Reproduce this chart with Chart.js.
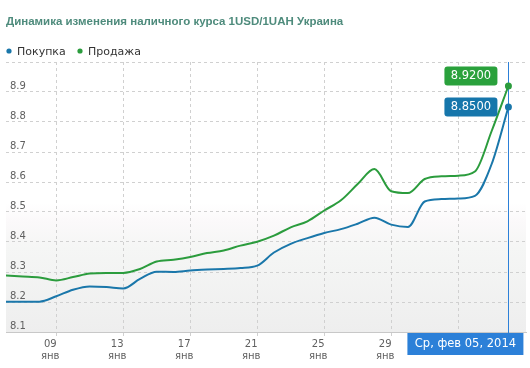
<!DOCTYPE html>
<html>
<head>
<meta charset="utf-8">
<script src="https://cdn.jsdelivr.net/npm/chart.js@4"></script>
<style>
  html, body { margin: 0; padding: 0; background: #ffffff; }
  #wrap { position: relative; width: 530px; height: 368px; }
</style>
</head>
<body>
<div id="wrap"><canvas id="c" width="530" height="368"></canvas></div>
<script>
// ---- data ----
const titleText = 'Динамика изменения наличного курса 1USD/1UAH Украина';
const seriesNames = ['Покупка', 'Продажа'];
const dates = [
  '2014-01-06','2014-01-07','2014-01-08','2014-01-09','2014-01-10','2014-01-11','2014-01-12',
  '2014-01-13','2014-01-14','2014-01-15','2014-01-16','2014-01-17','2014-01-18','2014-01-19',
  '2014-01-20','2014-01-21','2014-01-22','2014-01-23','2014-01-24','2014-01-25','2014-01-26',
  '2014-01-27','2014-01-28','2014-01-29','2014-01-30','2014-01-31','2014-02-01','2014-02-02',
  '2014-02-03','2014-02-04','2014-02-05'
];
const buy = [
  8.201, 8.201, 8.201, 8.219, 8.241, 8.252, 8.250,
  8.245, 8.277, 8.301, 8.300, 8.305, 8.308, 8.310,
  8.313, 8.321, 8.365, 8.394, 8.413, 8.430, 8.443,
  8.461, 8.481, 8.458, 8.450, 8.535, 8.543, 8.545,
  8.554, 8.660, 8.850
];
const sell = [
  8.288, 8.285, 8.282, 8.272, 8.283, 8.295, 8.297,
  8.297, 8.310, 8.335, 8.341, 8.350, 8.363, 8.372,
  8.388, 8.401, 8.421, 8.449, 8.469, 8.505, 8.539,
  8.593, 8.643, 8.569, 8.563, 8.610, 8.619, 8.621,
  8.635, 8.770, 8.920
];
const tickDates = ['2014-01-09','2014-01-13','2014-01-17','2014-01-21','2014-01-25','2014-01-29','2014-02-02'];
const tickDays = ['09','13','17','21','25','29',''];      // last label is covered by the date tooltip
const tickMonths = ['янв','янв','янв','янв','янв','янв',''];
const tooltipText = 'Ср, фев 05, 2014';
const yMin = 8.1, yMax = 9.0, yStep = 0.1;

// ---- styles ----
const BLUE = '#1a77aa';
const GREEN = '#2b9c3d';
const BLUE_BOX = '#1676ab';
const GREEN_BOX = '#2aa13c';
const TIP = '#2c80d8';
const GRID = '#d0d0d0';
const LABEL = '#606060';

const tickPositions = tickDates.map(d => dates.indexOf(d));
const lastIdx = dates.length - 1;
const toPts = arr => arr.map((v, i) => ({ x: i, y: v }));

const decor = {
  id: 'decor',
  beforeDraw(chart) {
    const { ctx, chartArea: a } = chart;
    const y = chart.scales.y;
    const g = ctx.createLinearGradient(0, a.top, 0, a.bottom);
    const f = p => (p - a.top) / (a.bottom - a.top);
    g.addColorStop(0, '#ffffff');
    g.addColorStop(f(y.getPixelForValue(8.53)), '#ffffff');
    g.addColorStop(f(y.getPixelForValue(8.47)), '#fbf9fa');
    g.addColorStop(f(y.getPixelForValue(8.38)), '#f5f6f5');
    g.addColorStop(1, '#eeeeee');
    ctx.save();
    ctx.fillStyle = g;
    ctx.fillRect(a.left, a.top, a.right - a.left, a.bottom - a.top);
    ctx.restore();
  },
  beforeDatasetsDraw(chart) {
    const { ctx, chartArea: a } = chart;
    const x = Math.round(chart.scales.x.getPixelForValue(lastIdx)) + 0.5;
    ctx.save();
    ctx.strokeStyle = TIP;
    ctx.lineWidth = 1;
    ctx.beginPath();
    ctx.moveTo(x, a.top);
    ctx.lineTo(x, a.bottom + 4);
    ctx.stroke();
    ctx.restore();
  },
  afterDraw(chart) {
    const { ctx, chartArea: a } = chart;
    const xs = chart.scales.x, ys = chart.scales.y;
    ctx.save();
    // title
    ctx.fillStyle = '#4e8b7c';
    ctx.font = 'bold 11.5px "Liberation Sans", Arial, sans-serif';
    ctx.textBaseline = 'middle';
    ctx.textAlign = 'left';
    ctx.fillText(titleText, 6, 21.5);
    // legend
    ctx.font = '11px "DejaVu Sans", sans-serif';
    const legendItems = [[seriesNames[0], BLUE, 9], [seriesNames[1], GREEN, 80]];
    legendItems.forEach(([t, c, x0]) => {
      ctx.fillStyle = c;
      ctx.beginPath();
      ctx.arc(x0, 51, 2.6, 0, Math.PI * 2);
      ctx.fill();
      ctx.fillStyle = '#333333';
      ctx.fillText(t, x0 + 8, 52);
    });
    // value labels
    const px = xs.getPixelForValue(lastIdx);
    const boxes = [
      { v: sell[lastIdx], c: GREEN_BOX, dy: -10 },
      { v: buy[lastIdx], c: BLUE_BOX, dy: 0 }
    ];
    ctx.font = '11.5px "DejaVu Sans", sans-serif';
    boxes.forEach(b => {
      const cy = ys.getPixelForValue(b.v) + b.dy;
      const w = 53, h = 19;
      const right = px - 11;
      ctx.fillStyle = b.c;
      ctx.beginPath();
      ctx.roundRect(right - w, cy - h / 2, w, h, 3);
      ctx.fill();
      ctx.fillStyle = '#ffffff';
      ctx.textAlign = 'center';
      ctx.fillText(b.v.toFixed(4), right - w / 2, cy + 0.5);
    });
    // date tooltip
    const tw = 116, th = 22;
    const tx = Math.min(px - 101, chart.width - 6 - tw);
    ctx.fillStyle = TIP;
    ctx.fillRect(tx, a.bottom + 1, tw, th);
    ctx.fillStyle = '#ffffff';
    ctx.font = '11.5px "DejaVu Sans", sans-serif';
    ctx.textAlign = 'center';
    ctx.fillText(tooltipText, tx + tw / 2, a.bottom + 1 + th / 2 + 0.5);
    ctx.restore();
  }
};

new Chart(document.getElementById('c'), {
  type: 'line',
  data: {
    datasets: [
      {
        label: seriesNames[0],
        data: toPts(buy),
        borderColor: BLUE,
        backgroundColor: BLUE,
        borderWidth: 2,
        cubicInterpolationMode: 'monotone',
        pointRadius: ctx => ctx.dataIndex === lastIdx ? 3.5 : 0,
        pointBorderWidth: 0,
        fill: false
      },
      {
        label: seriesNames[1],
        data: toPts(sell),
        borderColor: GREEN,
        backgroundColor: GREEN,
        borderWidth: 2,
        cubicInterpolationMode: 'monotone',
        pointRadius: ctx => ctx.dataIndex === lastIdx ? 3.5 : 0,
        pointBorderWidth: 0,
        fill: false
      }
    ]
  },
  options: {
    responsive: false,
    animation: false,
    events: [],
    layout: { padding: { left: 6, right: 3, top: 62, bottom: 0 } },
    plugins: { legend: { display: false }, title: { display: false }, tooltip: { enabled: false } },
    scales: {
      x: {
        type: 'linear',
        min: 0,
        max: 31.05,
        afterBuildTicks: s => { s.ticks = tickPositions.map(v => ({ value: v })); },
        afterFit: s => { s.height = 36; },
        grid: { color: GRID, tickLength: 5, drawOnChartArea: true, tickBorderDash: [3, 3] },
        border: { display: true, color: '#c8c8c8', dash: [3, 3] },
        ticks: {
          autoSkip: false,
          maxRotation: 0,
          padding: 1,
          labelOffset: -6,
          color: LABEL,
          font: { family: '"DejaVu Sans", sans-serif', size: 10, lineHeight: 1.25 },
          callback: (v) => {
            const i = tickPositions.indexOf(v);
            return (i < 0 || !tickDays[i]) ? '' : [tickDays[i], tickMonths[i]];
          }
        }
      },
      y: {
        min: yMin,
        max: yMax,
        afterFit: s => { s.width = 0; },
        grid: { color: GRID, drawTicks: false },
        border: { display: false, dash: [3, 3] },
        ticks: {
          stepSize: yStep,
          mirror: true,
          padding: 4,
          labelOffset: -6,
          color: LABEL,
          font: { family: '"DejaVu Sans", sans-serif', size: 10 },
          callback: v => (Math.abs(v - yMax) < 1e-6 ? '' : Number(v).toFixed(1))
        }
      }
    }
  },
  plugins: [decor]
});
</script>
</body>
</html>
